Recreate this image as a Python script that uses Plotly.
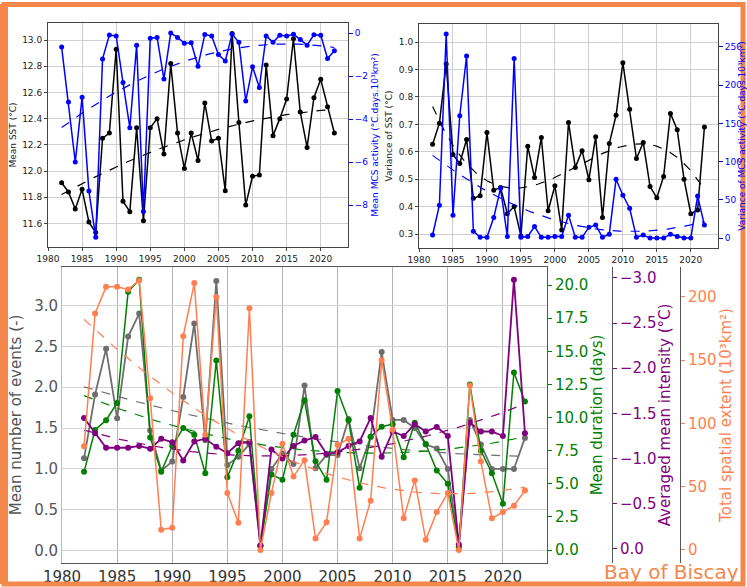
import numpy as np
import plotly.graph_objects as go

W, H = 747, 587
years = list(range(1982, 2023))

sst_mean = [11.91, 11.84, 11.71, 11.86, 11.61, 11.53, 12.25, 12.29, 12.93, 11.77, 11.69, 12.33, 11.62, 12.33,
            12.40, 12.13, 12.82, 12.29, 12.02, 12.29, 12.08, 12.52, 12.23, 12.25, 11.85, 13.05, 12.37, 11.74,
            11.96, 11.97, 12.81, 12.27, 12.40, 12.55, 13.01, 12.45, 12.18, 12.56, 12.70, 12.49, 12.29]
mcs_mean = [-0.65, -3.2, -6.0, -2.98, -7.35, -9.5, -1.2, -0.09, -0.13, -2.3, -4.4, -0.56, -8.3, -0.24,
            -0.2, -2.14, 0.0, -0.2, -0.47, -0.45, -1.54, -0.06, -0.14, -1.0, -1.3, -0.05, -0.43, -3.16,
            -1.57, -2.53, -0.13, -0.43, -0.1, -0.14, -0.05, -0.3, -0.56, -0.08, -0.1, -1.18, -0.82]
sst_var = [0.627, 0.704, 0.92, 0.59, 0.557, 0.645, 0.43, 0.44, 0.67, 0.46, 0.47, 0.374, 0.40, 0.293,
           0.62, 0.506, 0.652, 0.385, 0.476, 0.315, 0.707, 0.543, 0.604, 0.498, 0.655, 0.36, 0.63, 0.733,
           0.925, 0.755, 0.575, 0.634, 0.473, 0.432, 0.51, 0.74, 0.68, 0.50, 0.374, 0.388, 0.69]
mcs_var = [4, 43, 267, 30, 160, 238, 9, 1, 1, 27, 65, 2, 235, 1, 2, 15, 1, 1, 2, 2, 30, 1, 1, 14, 17, 1,
           5, 77, 56, 39, 1, 4, 0, 0, 0, 5, 2, 0, 0, 55, 17]

n_events = [1.13, 1.91, 2.47, 1.62, 2.62, 2.90, 1.47, 0.98, 1.09, 1.88, 2.78, 1.35, 3.30, 1.05, 1.15, 1.30,
            0.06, 1.0, 1.19, 1.06, 2.02, 1.01, 1.17, 1.17, 1.61, 1.01, 1.39, 2.43, 1.6, 1.6, 1.5, 1.3, 1.25,
            1.0, 0.05, 1.6, 1.3, 1.0, 1.0, 1.0, 1.38]
duration = [5.9, 9.06, 9.8, 11.1, 19.5, 20.4, 8.5, 5.9, 7.85, 9.2, 8.7, 5.8, 14.3, 5.5, 7.5, 10.1, 0.3,
            5.7, 5.3, 8.7, 11.3, 6.7, 5.3, 12.0, 9.8, 4.7, 8.55, 9.3, 9.5, 7.0, 9.6, 8.0, 6.0, 5.0, 0.2,
            12.5, 7.5, 5.8, 3.5, 13.4, 11.2]
intensity = [-1.45, -1.28, -1.12, -1.12, -1.12, -1.14, -1.11, -1.22, -1.18, -0.98, -1.19, -1.22, -1.13,
             -1.06, -1.17, -1.18, -0.04, -1.1, -1.0, -1.14, -1.2, -1.24, -1.05, -1.07, -1.14, -1.19, -1.45,
             -1.02, -1.3, -1.25, -1.38, -1.3, -1.35, -1.25, -0.05, -1.4, -1.3, -1.3, -1.25, -2.98, -1.28]
extent = [82, 187, 208, 208, 206, 213, 120, 16, 17.5, 169, 211, 91, 200, 45, 21.6, 191, 0, 45, 84, 58, 71,
          9, 22, 83, 88, 9, 39, 150, 95, 25, 55, 8, 30, 45, 0, 130, 70, 25, 30, 35, 47]

BLUE = "#0000ff"
GREY = "#6e6e6e"
GREEN = "#008000"
PURPLE = "#800080"
CORAL = "#ff7f50"
FRAME = "#f4874b"

fig = go.Figure()


def trend(y, deg):
    c = np.polyfit(years, y, deg)
    xs = np.linspace(years[0], years[-1], 120)
    return xs, np.polyval(c, xs)


def series(y, color, xa, ya, msize=5, lw=1.5):
    fig.add_trace(go.Scatter(x=years, y=y, mode="lines+markers", xaxis=xa, yaxis=ya,
                             line=dict(color=color, width=lw), marker=dict(color=color, size=msize),
                             showlegend=False, hoverinfo="skip"))


def tline(y, deg, color, xa, ya, lw=1.2):
    xs, ys = trend(y, deg)
    fig.add_trace(go.Scatter(x=xs, y=ys, mode="lines", xaxis=xa, yaxis=ya,
                             line=dict(color=color, width=lw, dash="dash"), showlegend=False,
                             hoverinfo="skip"))


# top-left
series(mcs_mean, BLUE, "x", "y2")
tline(mcs_mean, 2, BLUE, "x", "y2")
series(sst_mean, "black", "x", "y")
tline(sst_mean, 2, "black", "x", "y")
# top-right
series(sst_var, "black", "x2", "y3")
tline(sst_var, 3, "black", "x2", "y3")
series(mcs_var, BLUE, "x2", "y4")
tline(mcs_var, 2, BLUE, "x2", "y4")
# bottom
series(extent, CORAL, "x3", "y8", 6, 1.5)
series(n_events, GREY, "x3", "y5", 6, 1.8)
series(duration, GREEN, "x3", "y6", 6, 1.5)
series(intensity, PURPLE, "x3", "y7", 6, 1.8)
tline(extent, 2, CORAL, "x3", "y8")
tline(n_events, 2, GREY, "x3", "y5")
tline(duration, 2, GREEN, "x3", "y6")
tline(intensity, 2, PURPLE, "x3", "y7")


def px(x):
    return x / W


def py(y):
    return 1 - y / H


small = dict(family="DejaVu Sans", size=9, color="#222")
big = dict(family="DejaVu Sans", size=15, color="#555")

xcommon_small = dict(range=[1980, 2024], dtick=5, tick0=1980, showgrid=True, gridcolor="#cfcfcf",
                     showline=True, linecolor="#444", mirror=True, ticks="outside", ticklen=3,
                     tickfont=small, zeroline=False, automargin=False)

fig.update_layout(
    width=W, height=H, margin=dict(l=0, r=0, t=0, b=0, autoexpand=False),
    paper_bgcolor="white", plot_bgcolor="white",
    font=dict(family="DejaVu Sans"),
    xaxis=dict(domain=[px(48), px(348)], anchor="y", **xcommon_small),
    yaxis=dict(domain=[py(247), py(23)], range=[11.42, 13.13], dtick=0.2, tickformat=".1f",
               showgrid=True, gridcolor="#cfcfcf", showline=True, linecolor="#444", mirror=True,
               ticks="outside", ticklen=3, tickfont=small, zeroline=False, automargin=False,
               title=dict(text="Mean SST (°C)", font=small, standoff=4)),
    yaxis2=dict(overlaying="y", side="right", anchor="x", range=[-9.95, 0.47], dtick=2,
                showgrid=False, zeroline=False, ticks="outside", ticklen=4, tickcolor=BLUE, automargin=False,
                tickfont=dict(family="DejaVu Sans", size=9, color=BLUE),
                title=dict(text="Mean MCS activity (°C.days.10³km²)",
                           font=dict(family="DejaVu Sans", size=9, color=BLUE), standoff=4)),
    xaxis2=dict(domain=[px(419), px(718)], anchor="y3", **xcommon_small),
    yaxis3=dict(domain=[py(248), py(24)], range=[0.249, 1.066], dtick=0.1, tickformat=".1f",
                showgrid=True, gridcolor="#cfcfcf", showline=True, linecolor="#444", mirror=True,
                ticks="outside", ticklen=3, tickfont=small, zeroline=False, anchor="x2", automargin=False,
                title=dict(text="Variance of SST (°C)", font=small, standoff=4)),
    yaxis4=dict(overlaying="y3", side="right", anchor="x2", range=[-13, 280], dtick=50,
                showgrid=False, zeroline=False, ticks="outside", ticklen=4, tickcolor=BLUE, automargin=False,
                tickfont=dict(family="DejaVu Sans", size=9, color=BLUE),
                title=dict(text="Variance of MCS activity (°C.days.10³km²)",
                           font=dict(family="DejaVu Sans", size=9, color=BLUE), standoff=4)),
    xaxis3=dict(domain=[px(62), px(547)], anchor="y5", range=[1980, 2024], dtick=5, tick0=1980,
                showgrid=True, gridcolor="#b4b4b4", showline=True, linecolor="#555", mirror=True,
                ticks="", tickfont=dict(family="DejaVu Sans", size=15, color="#333"), zeroline=False,
                automargin=False),
    yaxis5=dict(domain=[py(563), py(267)], anchor="x3", range=[-0.15, 3.47], dtick=0.5, tickformat=".1f",
                showgrid=True, gridcolor="#d2d2d2", showline=True, linecolor="#bbb", zeroline=False,
                ticks="", tickfont=big, automargin=False,
                title=dict(text="Mean number of events (-)", font=big, standoff=8)),
    yaxis6=dict(overlaying="y5", side="right", anchor="x3", range=[-0.98, 21.36], dtick=2.5,
                tickformat=".1f", showgrid=False, zeroline=False, showline=True, linecolor="#555",
                ticks="outside", ticklen=4, tickcolor=GREEN, automargin=False,
                tickfont=dict(family="DejaVu Sans", size=15, color=GREEN),
                title=dict(text="Mean duration (days)", font=dict(family="DejaVu Sans", size=15, color=GREEN),
                           standoff=4)),
    yaxis7=dict(overlaying="y5", side="right", anchor="free", position=px(612), range=[0.155, -3.12],
                dtick=0.5, tickformat=".1f", showgrid=False, zeroline=False, showline=True,
                linecolor="#555", ticks="outside", ticklen=4, tickcolor=PURPLE, automargin=False,
                tickfont=dict(family="DejaVu Sans", size=15, color=PURPLE),
                title=dict(text="Averaged mean intensity (°C)",
                           font=dict(family="DejaVu Sans", size=15, color=PURPLE), standoff=4)),
    yaxis8=dict(overlaying="y5", side="right", anchor="free", position=px(680), range=[-10.3, 223.7],
                dtick=50, showgrid=False, zeroline=False, showline=True, linecolor="#555",
                ticks="outside", ticklen=4, tickcolor=CORAL, automargin=False,
                tickfont=dict(family="DejaVu Sans", size=15, color=CORAL),
                title=dict(text="Total spatial extent (10³km²)",
                           font=dict(family="DejaVu Sans", size=15, color=CORAL), standoff=4)),
)

fig.add_shape(type="rect", xref="paper", yref="paper", x0=px(4), x1=px(743), y0=py(584), y1=py(4.5),
              line=dict(color=FRAME, width=5), layer="above")
fig.add_shape(type="line", xref="paper", yref="paper", x0=px(4), x1=px(4), y0=py(584), y1=py(4),
              line=dict(color=FRAME, width=8), layer="above")
fig.add_annotation(x=px(741), y=py(572), xref="paper", yref="paper", xanchor="right", yanchor="middle",
                   text="Bay of Biscay", showarrow=False,
                   font=dict(family="DejaVu Sans", size=20, color=FRAME))

fig.write_html("out.html", config={"responsive": False, "displayModeBar": False},
               post_script="document.body.style.margin='0';document.body.style.overflow='hidden';")
